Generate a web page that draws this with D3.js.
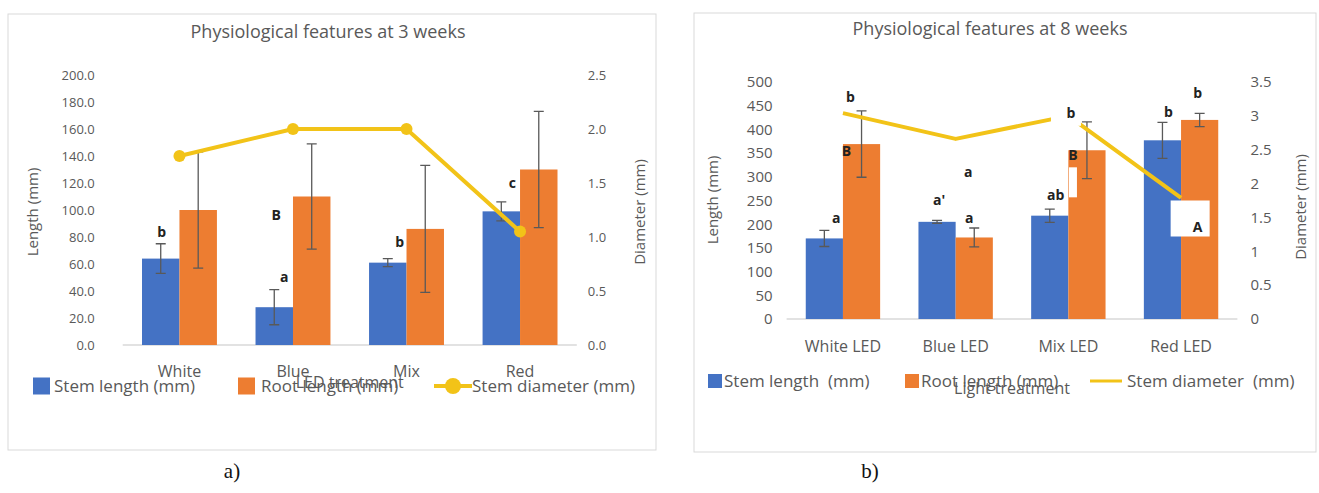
<!DOCTYPE html>
<html>
<head>
<meta charset="utf-8">
<script src="https://cdn.jsdelivr.net/npm/d3@7"></script>
<style>
  body { margin: 0; background: #fff; }
  svg { display: block; }
  text { font-family: "Open Sans", sans-serif; }
</style>
</head>
<body>
<svg id="chart" width="1319" height="493"></svg>
<script>
// --- 3 weeks (a) ---
const cats3 = ["White", "Blue", "Mix", "Red"];
const stem3 = [64, 28, 61, 99];
const stemErr3 = [11, 13, 3, 7];
const root3 = [100, 110, 86, 130];
const rootErr3 = [43, 39, 47, 43];
const diam3 = [1.75, 2.0, 2.0, 1.05];
const lenTicks3 = d3.range(0, 201, 20);
const diaTicks3 = [0, 0.5, 1, 1.5, 2, 2.5];
// letter, category, bar, height on length axis
const letters3 = [
  ["b", "White", "stem", 84],
  ["B", "Blue", "stem", 96],
  ["a", "Blue", "stem", 50],
  ["b", "Mix", "stem", 76],
  ["c", "Red", "stem", 120]
];

// --- 8 weeks (b) ---
const cats8 = ["White LED", "Blue LED", "Mix LED", "Red LED"];
const stem8 = [170, 205, 218, 377];
const stemErr8 = [17, 3, 14, 38];
const root8 = [369, 172, 356, 420];
const rootErr8 = [70, 20, 60, 14];
const diam8 = [3.04, 2.66, 3.0, 1.79];
const lenTicks8 = d3.range(0, 501, 50);
const diaTicks8 = [0, 0.5, 1, 1.5, 2, 2.5, 3, 3.5];
const letters8 = [
  ["b", "White LED", "root", 468],
  ["B", "White LED", "root", 354],
  ["a", "White LED", "stem", 213],
  ["a'", "Blue LED", "stem", 251],
  ["a", "Blue LED", "root", 310],
  ["a", "Blue LED", "root", 213],
  ["ab", "Mix LED", "stem", 262],
  ["B", "Mix LED", "root", 346],
  ["b", "Mix LED", "root", 435],
  ["b", "Red LED", "stem", 437],
  ["b", "Red LED", "root", 477],
  ["A", "Red LED", "root", 194]
];

const BLUE = "#4472C4", ORANGE = "#ED7D31", GOLD = "#F2C318", GREY = "#595959";
const svg = d3.select("#chart");

function drawChart(c) {
  const g = svg.append("g");
  g.append("rect")
    .attr("x", c.frame[0]).attr("y", c.frame[1])
    .attr("width", c.frame[2]).attr("height", c.frame[3])
    .attr("fill", "#fff").attr("stroke", "#d9d9d9");

  const x = d3.scaleBand().domain(c.cats).range([c.x0, c.x1])
    .paddingInner(0.34).paddingOuter(0.17);
  const xs = d3.scaleBand().domain(["stem", "root"]).range([0, x.bandwidth()]);
  const yL = d3.scaleLinear().domain([0, c.lenMax]).range([c.y0, c.y1]);
  const yR = d3.scaleLinear().domain([0, c.diaMax]).range([c.y0, c.y1]);

  g.append("line")
    .attr("x1", c.x0).attr("x2", c.x1).attr("y1", c.y0).attr("y2", c.y0)
    .attr("stroke", "#d9d9d9").attr("stroke-width", 1.5);

  const series = [
    { key: "stem", vals: c.stem, errs: c.stemErr, color: BLUE },
    { key: "root", vals: c.root, errs: c.rootErr, color: ORANGE }
  ];
  for (let s of series) {
    g.selectAll(null).data(s.vals).join("rect")
      .attr("x", (d, i) => x(c.cats[i]) + xs(s.key))
      .attr("y", d => yL(d))
      .attr("width", xs.bandwidth())
      .attr("height", d => c.y0 - yL(d))
      .attr("fill", s.color);
  }

  // white label boxes (they hide parts of the marks)
  for (let b of c.boxes) {
    g.append("rect")
      .attr("x", x(b[0]) + xs(b[1]) + xs.bandwidth() / 2 + b[3])
      .attr("y", yL(b[2]))
      .attr("width", b[4]).attr("height", b[5])
      .attr("fill", "#fff");
  }

  for (let s of series) {
    s.vals.forEach((v, i) => {
      const cx = x(c.cats[i]) + xs(s.key) + xs.bandwidth() / 2;
      const e = s.errs[i];
      g.append("path")
        .attr("d", `M${cx},${yL(v - e)}V${yL(v + e)}M${cx - 5},${yL(v + e)}H${cx + 5}M${cx - 5},${yL(v - e)}H${cx + 5}`)
        .attr("stroke", GREY).attr("stroke-width", 1.3).attr("fill", "none");
    });
  }

  const lineGen = d3.line()
    .x((d, i) => x(c.cats[i]) + x.bandwidth() / 2)
    .y(d => yR(d));
  g.append("path").datum(c.diam)
    .attr("d", lineGen)
    .attr("fill", "none").attr("stroke", GOLD)
    .attr("stroke-width", 4).attr("stroke-linejoin", "round");
  if (c.markers) {
    g.selectAll(null).data(c.diam).join("circle")
      .attr("cx", (d, i) => x(c.cats[i]) + x.bandwidth() / 2)
      .attr("cy", d => yR(d))
      .attr("r", 6).attr("fill", GOLD);
  }

  // letter annotations
  c.letters.forEach((l, i) => {
    const px = x(l[1]) + xs(l[2]) + xs.bandwidth() / 2 + c.letterDx[i];
    const py = yL(l[3]);
    if (c.letterBg.includes(i)) {
      g.append("rect").attr("x", px - 20).attr("y", py - 13)
        .attr("width", 30).attr("height", 26).attr("fill", "#fff");
    }
    g.append("text")
      .attr("x", px).attr("y", py).attr("dy", "0.35em")
      .attr("text-anchor", "middle")
      .attr("font-size", 14).attr("font-weight", "bold").attr("fill", "#222")
      .text(l[0]);
  });

  // axes
  const axL = g.append("g").attr("transform", `translate(${c.x0},0)`)
    .call(d3.axisLeft(yL).tickValues(c.lenTicks).tickFormat(c.fmt).tickSize(0).tickPadding(c.padL));
  const axR = g.append("g").attr("transform", `translate(${c.x1},0)`)
    .call(d3.axisRight(yR).tickValues(c.diaTicks).tickFormat(c.fmtR).tickSize(0).tickPadding(c.padR));
  const axB = g.append("g").attr("transform", `translate(0,${c.y0})`)
    .call(d3.axisBottom(x).tickSize(0).tickPadding(c.padB));
  for (let ax of [axL, axR]) {
    ax.select(".domain").remove();
    ax.selectAll("text").attr("font-size", c.tickFs).attr("fill", GREY).style("font-family", '"Open Sans", sans-serif');
  }
  axB.select(".domain").remove();
  axB.selectAll("text").attr("font-size", 16).attr("fill", GREY).style("font-family", '"Open Sans", sans-serif');

  g.append("text").attr("x", c.titleX).attr("y", c.titleY)
    .attr("text-anchor", "middle").attr("font-size", 18).attr("fill", GREY)
    .text(c.title);
  g.append("text").attr("transform", `translate(${c.lenLabX},${c.lenLabY}) rotate(-90)`)
    .attr("text-anchor", "middle").attr("font-size", 15).attr("fill", GREY)
    .text("Length (mm)");
  g.append("text").attr("transform", `translate(${c.diaLabX},${c.diaLabY}) rotate(-90)`)
    .attr("text-anchor", "middle").attr("font-size", 15).attr("fill", GREY)
    .text("Diameter (mm)");
  g.append("text").attr("x", (c.x0 + c.x1) / 2).attr("y", c.xTitleY)
    .attr("text-anchor", "middle").attr("font-size", 16).attr("fill", GREY)
    .text(c.xTitle);

  // legend
  const lg = g.append("g").attr("transform", `translate(0,${c.legY})`);
  c.legend.forEach(it => {
    if (it.type === "rect") {
      lg.append("rect").attr("x", it.x).attr("y", -it.s / 2).attr("width", it.s).attr("height", it.s).attr("fill", it.color);
    } else {
      lg.append("line").attr("x1", it.x).attr("x2", it.x + it.w).attr("y1", 0).attr("y2", 0)
        .attr("stroke", GOLD).attr("stroke-width", it.marker ? 4 : 3);
      if (it.marker) lg.append("circle").attr("cx", it.x + it.w / 2).attr("cy", 0).attr("r", 8).attr("fill", GOLD);
    }
    lg.append("text").attr("x", it.tx).attr("y", 0).attr("dy", "0.35em")
      .attr("font-size", c.legFs).attr("fill", GREY).attr("xml:space", "preserve").text(it.label);
  });

  svg.append("text").attr("x", c.capX).attr("y", 478)
    .attr("text-anchor", "middle").attr("font-size", 21)
    .style("font-family", '"Liberation Serif", serif').attr("fill", "#111")
    .text(c.caption);
}

drawChart({
  frame: [8, 14, 648, 436],
  cats: cats3, stem: stem3, stemErr: stemErr3, root: root3, rootErr: rootErr3, diam: diam3,
  lenMax: 200, diaMax: 2.5, lenTicks: lenTicks3, diaTicks: diaTicks3,
  fmt: d3.format(".1f"), fmtR: d3.format(".1f"),
  x0: 122.7, x1: 576.8, y0: 345, y1: 75,
  padL: 28, padR: 11, padB: 21, tickFs: 13,
  markers: true,
  letters: letters3, letterDx: [1, 2, 10, 12, 11], letterBg: [],
  boxes: [],
  title: "Physiological features at 3 weeks", titleX: 328, titleY: 38,
  lenLabX: 38, lenLabY: 212, diaLabX: 645, diaLabY: 212,
  xTitle: "LED treatment", xTitleY: 388,
  legY: 386, legFs: 17,
  legend: [
    { type: "rect", x: 33, s: 17, color: BLUE, tx: 54, label: "Stem length (mm)" },
    { type: "rect", x: 238, s: 17, color: ORANGE, tx: 261, label: "Root length (mm)" },
    { type: "line", x: 434, w: 38, marker: true, tx: 472, label: "Stem diameter (mm)" }
  ],
  capX: 232, caption: "a)"
});

drawChart({
  frame: [694, 13, 622, 439],
  cats: cats8, stem: stem8, stemErr: stemErr8, root: root8, rootErr: rootErr8, diam: diam8,
  lenMax: 500, diaMax: 3.5, lenTicks: lenTicks8, diaTicks: diaTicks8,
  fmt: d3.format("d"), fmtR: d => String(d),
  x0: 786.6, x1: 1237.4, y0: 319, y1: 82,
  padL: 14, padR: 13, padB: 22, tickFs: 15,
  markers: false,
  letters: letters8, letterDx: [-11, -15, 12, 2, -6, -5, 6, -14, -16, 6, -2, -2], letterBg: [8],
  // category, bar, top value, dx from bar centre, width, height
  boxes: [["Red LED", "root", 250, -29, 39, 36], ["Mix LED", "root", 320, -18, 8, 30]],
  title: "Physiological features at 8 weeks", titleX: 990, titleY: 35,
  lenLabX: 718, lenLabY: 200, diaLabX: 1306, diaLabY: 207,
  xTitle: "Light treatment", xTitleY: 394,
  legY: 381, legFs: 17,
  legend: [
    { type: "rect", x: 708, s: 14, color: BLUE, tx: 724, label: "Stem length  (mm)" },
    { type: "rect", x: 905, s: 14, color: ORANGE, tx: 921, label: "Root length (mm)" },
    { type: "line", x: 1090, w: 32, marker: false, tx: 1127, label: "Stem diameter  (mm)" }
  ],
  capX: 870, caption: "b)"
});
</script>
</body>
</html>
